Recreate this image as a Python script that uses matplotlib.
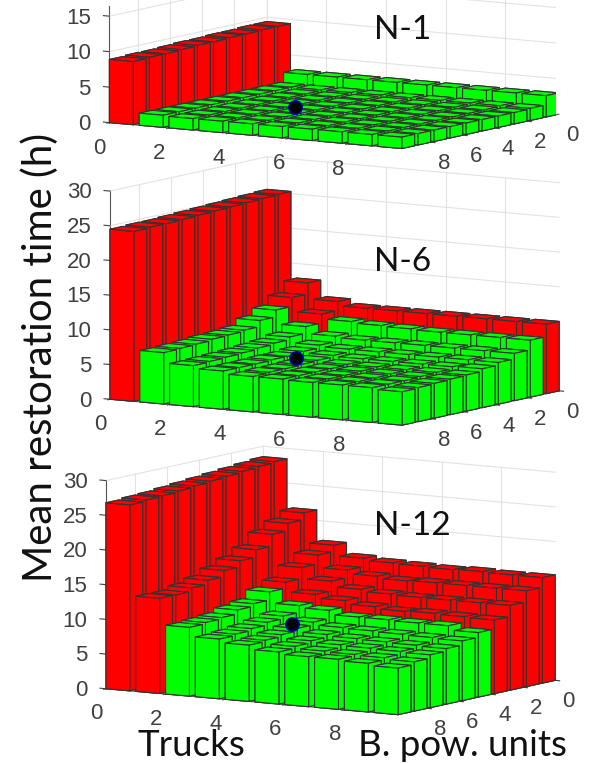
import matplotlib
matplotlib.use('Agg')
import matplotlib.pyplot as plt
import numpy as np
from mpl_toolkits.mplot3d import proj3d

plt.rcParams['font.family'] = ['Liberation Sans', 'DejaVu Sans']

# 每個面板的平均復原時間 (列 = B. pow. units 0..9, 欄 = Trucks 0..9)
hours_n1 = [
    [9.4, 3.0, 3.0, 3.0, 3.0, 3.0, 3.0, 3.0, 3.0, 3.0],
    [9.4, 1.7, 1.7, 1.7, 1.7, 1.7, 1.7, 1.7, 1.7, 1.7],
    [9.3, 1.7, 1.6, 1.6, 1.6, 1.6, 1.6, 1.6, 1.6, 1.6],
    [9.3, 1.7, 1.6, 1.6, 1.6, 1.6, 1.6, 1.6, 1.6, 1.6],
    [9.2, 1.7, 1.6, 1.6, 1.6, 1.6, 1.6, 1.6, 1.6, 1.6],
    [9.2, 1.7, 1.6, 1.6, 1.6, 1.6, 1.6, 1.6, 1.6, 1.6],
    [9.1, 1.7, 1.6, 1.6, 1.6, 1.6, 1.6, 1.6, 1.6, 1.6],
    [9.0, 1.7, 1.6, 1.6, 1.6, 1.6, 1.6, 1.6, 1.6, 1.6],
    [9.0, 1.7, 1.6, 1.6, 1.6, 1.6, 1.6, 1.6, 1.6, 1.6],
    [8.9, 1.7, 1.6, 1.6, 1.6, 1.6, 1.6, 1.6, 1.6, 1.6],
]
hours_n6 = [
    [25.3, 12.9, 10.6, 10.0, 10.0, 10.0, 10.0, 10.0, 10.0, 10.0],
    [25.2, 11.3, 9.3, 8.6, 8.4, 8.3, 8.2, 8.2, 8.2, 8.2],
    [25.1, 10.0, 8.0, 7.0, 6.8, 6.8, 6.8, 6.8, 6.8, 6.8],
    [25.0, 9.0, 7.0, 6.2, 6.0, 6.0, 6.0, 6.0, 6.0, 6.0],
    [24.9, 8.1, 6.6, 5.8, 5.6, 5.5, 5.5, 5.5, 5.5, 5.6],
    [24.8, 7.9, 6.4, 5.6, 5.4, 5.2, 5.2, 5.2, 5.2, 5.2],
    [24.7, 7.8, 6.2, 5.6, 5.3, 5.1, 5.1, 5.1, 5.1, 5.1],
    [24.6, 7.6, 6.1, 5.5, 5.2, 5.1, 5.0, 5.0, 5.0, 5.0],
    [24.6, 7.5, 6.0, 5.5, 5.2, 5.1, 5.0, 5.0, 5.0, 4.9],
    [24.5, 7.4, 5.9, 5.5, 5.1, 5.1, 5.0, 5.0, 5.0, 4.8],
]
hours_n12 = [
    [28.5, 21.5, 17.2, 15.7, 15.4, 15.3, 15.2, 15.3, 15.2, 15.2],
    [28.3, 20.5, 16.3, 14.5, 14.0, 13.7, 13.8, 13.8, 13.8, 13.8],
    [28.1, 19.4, 15.0, 13.4, 12.6, 12.3, 12.2, 12.2, 12.2, 12.2],
    [27.9, 17.7, 13.4, 12.0, 11.5, 11.0, 10.7, 10.8, 10.7, 10.6],
    [27.7, 16.6, 12.5, 10.9, 10.6, 10.0, 10.0, 9.9, 9.9, 9.3],
    [27.5, 15.7, 11.3, 9.9, 9.4, 9.0, 8.9, 8.8, 8.7, 8.6],
    [27.3, 14.8, 10.9, 9.5, 9.0, 8.5, 8.3, 8.2, 8.1, 8.0],
    [27.1, 14.2, 10.3, 9.1, 8.6, 8.1, 7.9, 7.8, 7.7, 7.6],
    [27.0, 13.7, 10.1, 8.8, 8.3, 7.8, 7.5, 7.4, 7.3, 7.1],
    [26.8, 13.7, 9.9, 8.6, 8.1, 7.5, 7.2, 7.2, 7.0, 6.7],
]

# 每個 Trucks 數量下有幾列是紅色 (從 units=0 起算)
red_rows_n1 = [10, 0, 0, 0, 0, 0, 0, 0, 0, 0]
red_rows_n6 = [10, 2, 2, 1, 1, 1, 1, 1, 1, 1]
red_rows_n12 = [10, 10, 4, 4, 4, 4, 4, 4, 4, 4]

# 黑點 (trucks, units, hours)
best_trucks = 4.4
best_units = 6.4
best_hours = [2.1, 5.9, 9.3]

titles = ['N-1', 'N-6', 'N-12']
z_tops = [16.5, 30, 30]
z_ticks = [[0, 5, 10, 15], [0, 5, 10, 15, 20, 25, 30], [0, 5, 10, 15, 20, 25, 30]]
xy_ticks = [0, 2, 4, 6, 8]

W, H = 589, 764
fig = plt.figure(figsize=(W / 100, H / 100), dpi=100)

# 面板位置 (像素): 中心 x, 中心 y, 方框邊長, z 高度
panels = [(328, 66, 455, 118), (328, 297.5, 485, 210), (324, 587, 485, 210)]
all_hours = [hours_n1, hours_n6, hours_n12]
all_red = [red_rows_n1, red_rows_n6, red_rows_n12]

grid_c = '#e2e2e2'
tick_c = '#404040'
edge = 9.8  # 柱子佔滿的範圍


def label3d(ax, x, y, z, s, ha):
    # 3D 座標投影到圖上,再放成一般文字
    xs, ys, _ = proj3d.proj_transform(x, y, z, ax.get_proj())
    px = ax.transData.transform((xs, ys))
    fx, fy = fig.transFigure.inverted().transform(px)
    fig.text(fx, fy, s, fontsize=16, color=tick_c, ha=ha, va='center')


for k in range(3):
    cx, cy, side, zh = panels[k]
    ax = fig.add_axes([(cx - side / 2) / W, 1 - (cy + side / 2) / H, side / W, side / H],
                      projection='3d', computed_zorder=False, proj_type='ortho')
    ax.patch.set_alpha(0)
    ax.view_init(elev=8, azim=-57.5)
    ax.set_box_aspect((346, 292, zh))
    ax.set_xlim(0, edge)
    ax.set_ylim(edge, 0)
    ax.set_zlim(0, z_tops[k])
    ax.set_xticks([])
    ax.set_yticks([])
    ax.set_zticks([])
    ax.apply_aspect()
    for axis in [ax.xaxis, ax.yaxis, ax.zaxis]:
        axis.set_pane_color((1, 1, 1, 0))
        axis.pane.set_edgecolor((1, 1, 1, 0))
        axis.line.set_color('#555555')
        axis.line.set_linewidth(0.8)
    ax.zaxis.set_ticks_position('upper')

    # 後面兩道牆的格線 + 刻度
    top = z_tops[k]
    for z in z_ticks[k]:
        ax.plot([0, 0, edge], [edge, 0, 0], [z, z, z], color=grid_c, lw=0.8, zorder=0)
        ax.plot([0, -0.2], [edge, edge], [z, z], color=tick_c, lw=0.8, zorder=0)
        label3d(ax, -0.62, edge, z - 0.5, str(z), 'right')
    for t in xy_ticks:
        ax.plot([t, t], [0, 0], [0, top], color=grid_c, lw=0.8, zorder=0)
        ax.plot([0, 0], [t, t], [0, top], color=grid_c, lw=0.8, zorder=0)
        ax.plot([t, t], [edge, edge + 0.15], [0, 0], color=tick_c, lw=0.8, zorder=0)
        ax.plot([edge, edge + 0.15], [t, t], [0, 0], color=tick_c, lw=0.8, zorder=0)
        label3d(ax, t, 10.4, -3.3, str(t), 'center')
        label3d(ax, 10.25, t, -2.9, str(t), 'center')

    # 由後往前畫,才不會互相蓋錯
    order = 1
    for i in range(10):
        for j in range(10):
            col = '#ff0000' if j < all_red[k][i] else '#00ff00'
            ax.bar3d(i, j, 0, 0.8, 0.8, all_hours[k][j][i], color=col, shade=False,
                     edgecolor='#333333', linewidth=0.8, zorder=order)
            order += 1
    ax.scatter([best_trucks], [best_units], [best_hours[k]], s=95, c='black',
               edgecolors='#0000cc', linewidths=1, depthshade=False, zorder=order)

    fig.text(374 / W, 1 - [30, 262, 526][k] / H, titles[k], family='Lato', fontsize=24,
             ha='left', va='center', color='#111111')

fig.text(40 / W, 1 - 358 / H, 'Mean restoration time (h)', family='Lato', fontsize=29,
         rotation=90, ha='center', va='center', color='#111111')
fig.text(191 / W, 1 - 746 / H, 'Trucks', family='Lato', fontsize=26.5, ha='center',
         va='center', color='#111111')
fig.text(462 / W, 1 - 746 / H, 'B. pow. units', family='Lato', fontsize=26.5, ha='center',
         va='center', color='#111111')

fig.savefig('out.png', dpi=100)
